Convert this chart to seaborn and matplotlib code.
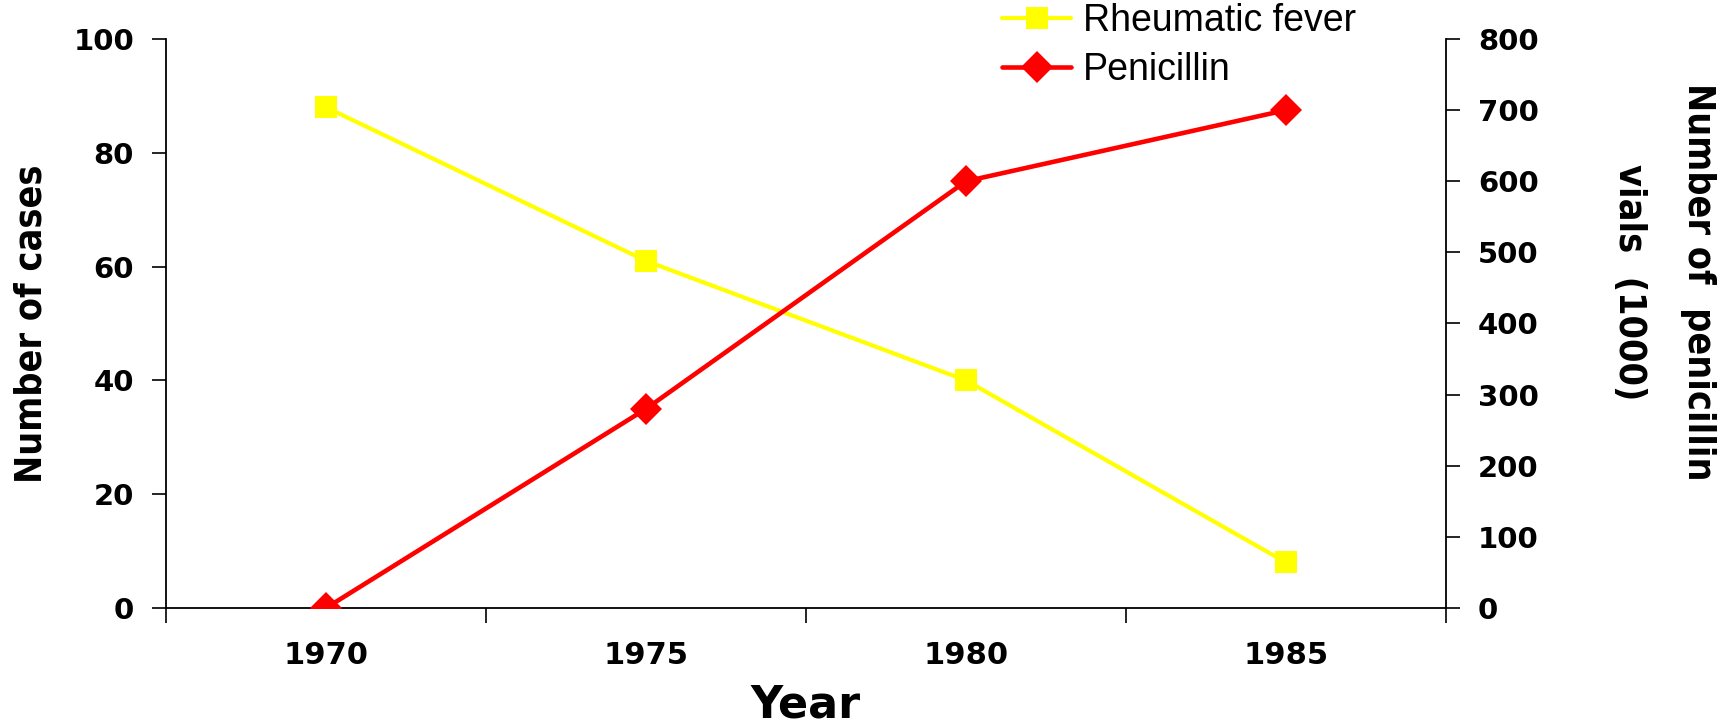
import os
import matplotlib
matplotlib.use('Agg')
import numpy as np
import matplotlib.pyplot as plt
from matplotlib import font_manager as fm
import seaborn as sns

# dados
years = [1970, 1975, 1980, 1985]
rheumatic_fever = [88, 61, 40, 8]
penicillin_vials = [0, 280, 600, 700]

left_ticks = [0, 20, 40, 60, 80, 100]
right_ticks = [0, 100, 200, 300, 400, 500, 600, 700, 800]

sns.set_theme(style='white')
plt.rcParams['font.family'] = ['DejaVu Sans']


# fonte condensada para os títulos dos eixos (se existir)
def narrow_font():
    for f in fm.fontManager.ttflist:
        base = os.path.basename(f.fname).lower()
        if ('narrow' in base or 'condensed' in base) and 'bold' in base \
                and 'italic' not in base and 'semi' not in base \
                and 'extra' not in base and 'oblique' not in base:
            return fm.FontProperties(fname=f.fname)
    return None


narrow = narrow_font()
if narrow is not None:
    label_kw = dict(fontproperties=narrow, fontsize=27)
    right_spacing = 2.2
else:
    label_kw = dict(family='DejaVu Sans', fontweight='bold', fontsize=19)
    right_spacing = 3.1

fig = plt.figure(figsize=(17.36, 7.23), dpi=100)
ax = fig.add_axes([166 / 1736, 1 - 608 / 723, 1280 / 1736, 569 / 723])
ax2 = ax.twinx()

sns.lineplot(x=years, y=rheumatic_fever, ax=ax, color='#FFFF00', linewidth=3,
             marker='s', markersize=16, markeredgewidth=0, label='Rheumatic fever')
sns.lineplot(x=years, y=penicillin_vials, ax=ax2, color='#FF0000', linewidth=3.3,
             marker='D', markersize=16, markeredgewidth=0, label='Penicillin')

# eixos
ax.set_xlim(years[0] - 2.5, years[-1] + 2.5)
ax.set_ylim(0, 100)
ax2.set_ylim(0, 800)
ax.set_yticks(left_ticks)
ax2.set_yticks(right_ticks)
ax.set_xticks(np.arange(years[0] - 2.5, years[-1] + 3, 5))
ax.set_xticks(years, minor=True)
ax.set_xticklabels([])
ax.set_xticklabels([str(y) for y in years], minor=True)

for a in (ax, ax2):
    a.grid(False)
    a.spines['top'].set_visible(False)
    for s in a.spines.values():
        s.set_color('black')
        s.set_linewidth(1.3)
ax.spines['right'].set_visible(False)
ax2.spines['left'].set_visible(False)
ax2.spines['bottom'].set_visible(False)

ax.tick_params(axis='x', which='major', bottom=True, length=11, width=1.2,
               direction='out', color='black')
ax.tick_params(axis='x', which='minor', bottom=True, length=0, pad=24,
               labelsize=22, labelcolor='black')
ax.tick_params(axis='y', left=True, length=10, width=1.2, direction='out',
               pad=13, labelsize=21, color='black', labelcolor='black')
ax2.tick_params(axis='y', right=True, length=10, width=1.2, direction='out',
                pad=13, labelsize=21, color='black', labelcolor='black')
for lab in ax.get_xticklabels(minor=True) + ax.get_yticklabels() + ax2.get_yticklabels():
    lab.set_fontweight('bold')

ax.set_ylabel('Number of cases', color='black', va='center', **label_kw)
ax.yaxis.set_label_coords(-0.105, 0.5)
ax.set_xlabel('Year', fontweight='bold', fontsize=32, color='black', va='center')
ax.xaxis.set_label_coords(0.5, -0.170)
ax2.set_ylabel('Number of  penicillin\nvials  (1000)', color='black', rotation=270,
               ha='center', va='center', linespacing=right_spacing, **label_kw)
ax2.yaxis.set_label_coords(1.170, 0.573)

# legenda
h1, l1 = ax.get_legend_handles_labels()
h2, l2 = ax2.get_legend_handles_labels()
ax.get_legend().remove()
ax2.get_legend().remove()
fig.legend(h1 + h2, l1 + l2, loc='upper left', bbox_to_anchor=(1002 / 1736, 0.996),
           frameon=False, prop={'family': ['Liberation Sans', 'DejaVu Sans'], 'size': 27},
           labelcolor='black', handlelength=1.85, handletextpad=0.3, labelspacing=0.36,
           borderpad=0, borderaxespad=0)

fig.savefig('out.png', dpi=100)
